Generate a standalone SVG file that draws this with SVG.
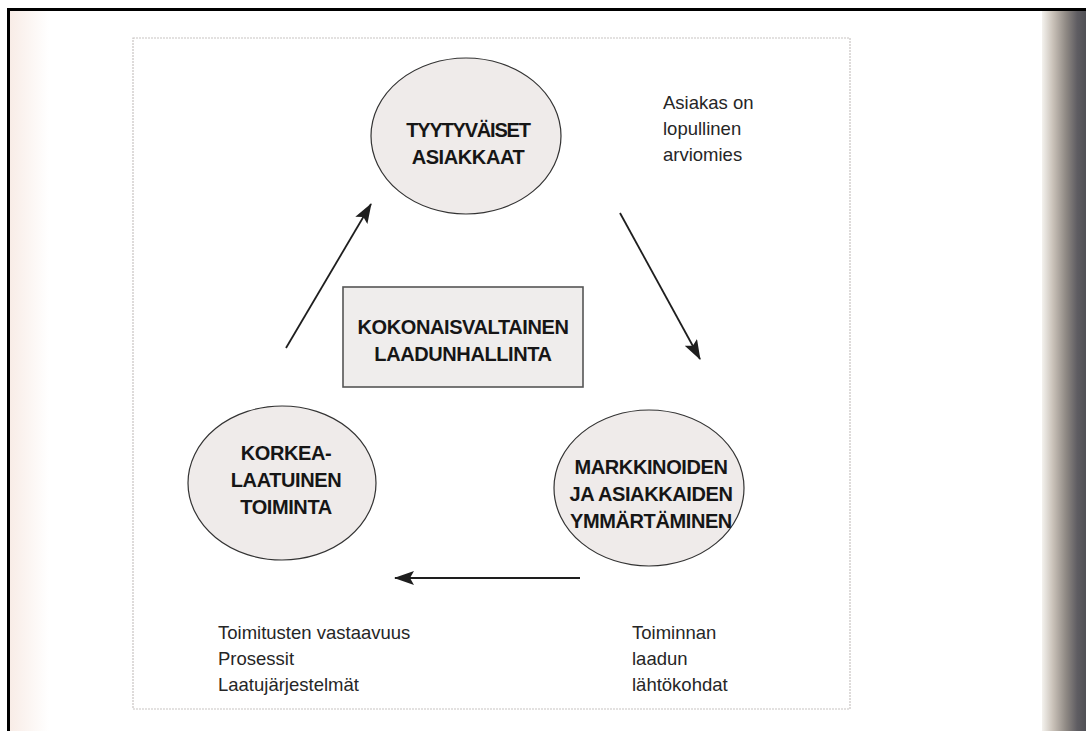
<svg xmlns="http://www.w3.org/2000/svg" width="1086" height="731" viewBox="0 0 1086 731">
  <defs>
    <linearGradient id="edgeShade" x1="0" y1="0" x2="1" y2="0">
      <stop offset="0" stop-color="#f4f2ee"/>
      <stop offset="0.25" stop-color="#c9c1b8"/>
      <stop offset="0.55" stop-color="#8e8883"/>
      <stop offset="0.8" stop-color="#5f5d62"/>
      <stop offset="1" stop-color="#505055"/>
    </linearGradient>
    <linearGradient id="leftTint" x1="0" y1="0" x2="1" y2="0">
      <stop offset="0" stop-color="#f8ece6"/>
      <stop offset="1" stop-color="#ffffff"/>
    </linearGradient>
    <marker id="arrow" viewBox="0 0 20 14" refX="19" refY="7" markerWidth="20" markerHeight="14" markerUnits="userSpaceOnUse" orient="auto">
      <path d="M0,0 L20,7 L0,14 L4,7 Z" fill="#1e1e1e"/>
    </marker>
    <style>
      .bubble { fill: #efebea; stroke: #333; stroke-width: 1.2; }
      .box { fill: #efedec; stroke: #555; stroke-width: 1.6; }
      .bold { font-family: "Liberation Sans", Arial, sans-serif; font-weight: bold; font-size: 20px; letter-spacing: -0.4px; fill: #161616; text-anchor: middle; }
      .tight { letter-spacing: -1.2px; }
      .note { font-family: "Liberation Sans", Arial, sans-serif; font-size: 18.5px; fill: #262626; }
      .link { stroke: #1e1e1e; stroke-width: 1.8; fill: none; marker-end: url(#arrow); }
    </style>
  </defs>

  <!-- page -->
  <rect x="0" y="0" width="1086" height="731" fill="#ffffff"/>
  <rect x="9" y="10" width="40" height="721" fill="url(#leftTint)"/>
  <rect x="1042" y="10" width="44" height="721" fill="url(#edgeShade)"/>
  <rect x="7" y="8" width="1079" height="3" fill="#000"/>
  <rect x="7" y="8" width="3" height="723" fill="#000"/>

  <!-- figure frame -->
  <rect x="133" y="38" width="717" height="671" fill="none" stroke="#c8c4c2" stroke-width="1.2" stroke-dasharray="2 1"/>

  <!-- connectors -->
  <g id="connectors">
    <line class="link" x1="286" y1="348" x2="371" y2="204"/>
    <line class="link" x1="620" y1="213" x2="700" y2="359"/>
    <line class="link" x1="580" y1="578" x2="395" y2="578"/>
  </g>

  <g id="node-customers">
    <ellipse class="bubble" cx="466" cy="136" rx="95" ry="78"/>
    <text class="bold tight" x="468" y="137">TYYTYVÄISET</text>
    <text class="bold" x="468" y="164">ASIAKKAAT</text>
  </g>

  <g id="note-customers">
    <text class="note" x="663" y="109">Asiakas on</text>
    <text class="note" x="663" y="135">lopullinen</text>
    <text class="note" x="663" y="161">arviomies</text>
  </g>

  <g id="node-tqm">
    <rect class="box" x="343" y="287" width="240" height="100"/>
    <text class="bold" x="463" y="334">KOKONAISVALTAINEN</text>
    <text class="bold" x="463" y="361">LAADUNHALLINTA</text>
  </g>

  <g id="node-operations">
    <ellipse class="bubble" cx="282" cy="483" rx="94" ry="77"/>
    <text class="bold" x="286" y="460">KORKEA-</text>
    <text class="bold" x="286" y="487">LAATUINEN</text>
    <text class="bold" x="286" y="514">TOIMINTA</text>
  </g>

  <g id="node-markets">
    <ellipse class="bubble" cx="649" cy="488" rx="95" ry="78"/>
    <text class="bold" x="651" y="474">MARKKINOIDEN</text>
    <text class="bold" x="651" y="501">JA ASIAKKAIDEN</text>
    <text class="bold" x="651" y="528">YMMÄRTÄMINEN</text>
  </g>

  <g id="note-operations">
    <text class="note" x="218" y="639">Toimitusten vastaavuus</text>
    <text class="note" x="218" y="665">Prosessit</text>
    <text class="note" x="218" y="691">Laatujärjestelmät</text>
  </g>

  <g id="note-markets">
    <text class="note" x="632" y="639">Toiminnan</text>
    <text class="note" x="632" y="665">laadun</text>
    <text class="note" x="632" y="691">lähtökohdat</text>
  </g>
</svg>
